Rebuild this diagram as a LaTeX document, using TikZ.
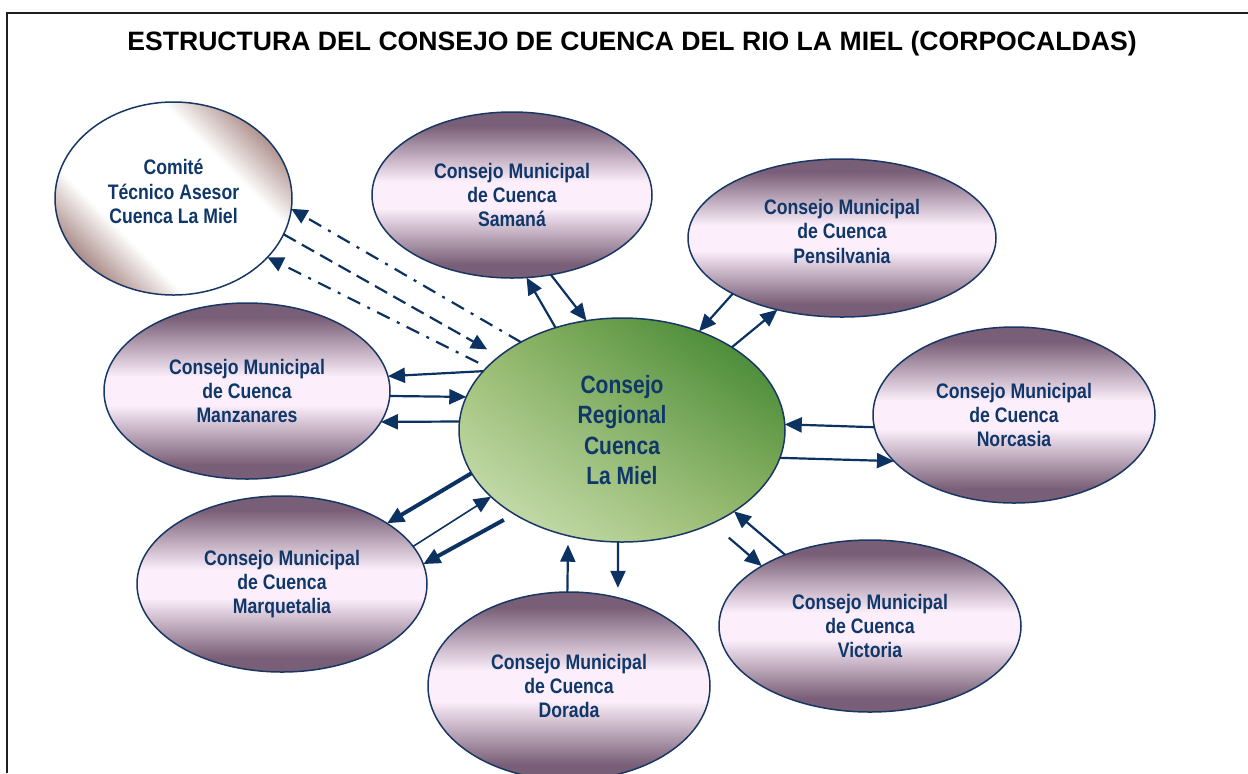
\documentclass[tikz,border=0pt]{standalone}
\usepackage{fontspec}
\setmainfont{Liberation Sans}
\newfontfamily\narrowfont[FakeStretch=0.84]{Liberation Sans}
\usetikzlibrary{shapes.geometric,arrows.meta,shadings}
\definecolor{mauveD}{RGB}{120,94,118}
\definecolor{mauveL}{RGB}{252,238,251}
\definecolor{navytxt}{RGB}{16,55,105}
\definecolor{arrowc}{RGB}{12,50,98}
\definecolor{edgec}{RGB}{25,55,100}
\definecolor{brn}{RGB}{140,100,95}
\definecolor{brnB}{RGB}{150,110,105}
\definecolor{gDark}{RGB}{50,125,40}
\definecolor{gMid}{RGB}{150,185,105}
\definecolor{gLight}{RGB}{212,230,192}
\definecolor{framec}{RGB}{30,30,30}
\pgfdeclareverticalshading{muniShade}{100bp}{color(0bp)=(mauveD); color(29bp)=(mauveD); color(46bp)=(mauveL); color(54bp)=(mauveL); color(71bp)=(mauveD); color(100bp)=(mauveD)}
\pgfdeclarehorizontalshading{comiteShade}{100bp}{color(0bp)=(brn); color(21bp)=(brn); color(36bp)=(white); color(64bp)=(white); color(79bp)=(brnB); color(100bp)=(brnB)}
\tikzset{
  bubble/.style={ellipse, draw=edgec, line width=0.75pt, inner sep=0pt, outer sep=0pt,
    text=navytxt, align=center, font=\narrowfont\bfseries\fontsize{10.5}{12.2}\selectfont},
  muni/.style={bubble, shading=muniShade},
  comitestyle/.style={bubble, shading=comiteShade, shading angle=45},
  centralstyle/.style={bubble, shade, upper right=gDark, lower left=gLight, upper left=gMid, lower right=gMid,
    font=\narrowfont\bfseries\fontsize{12.5}{15.3}\selectfont},
  arr/.style={draw=arrowc, line width=1.1pt, -{Triangle[length=8.5pt,width=7.5pt]}},
  arrthick/.style={arr, line width=2pt},
  arrthin/.style={arr, line width=0.8pt},
  dasharr/.style={draw=arrowc, line width=1.1pt, -{Triangle[length=8pt,width=7.5pt]}},
  dashA/.style={dash pattern=on 7pt off 3.5pt},
  dashdotA/.style={dash pattern=on 7pt off 4pt on 1.5pt off 4pt},
  titlestyle/.style={font=\bfseries\fontsize{13.3}{16}\selectfont, text=black, inner sep=0pt},
  framestyle/.style={draw=framec, line width=1pt}
}
\begin{document}
\begin{tikzpicture}[x=0.5pt,y=-0.5pt]
\path[use as bounding box, clip] (0,0) rectangle (1248,773);
\draw[framestyle] (7,773) -- (7,13) -- (1248,13);
\node[titlestyle, anchor=base] (title) at (632,50) {ESTRUCTURA DEL CONSEJO DE CUENCA DEL RIO LA MIEL (CORPOCALDAS)};

\node[comitestyle, minimum width=118.5pt, minimum height=96.5pt] (comite) at (173.5,198.5) {Comité\\Técnico Asesor\\Cuenca La Miel\rule[-7pt]{0pt}{0pt}};
\node[muni, minimum width=140pt, minimum height=83pt] (samana) at (512,195) {Consejo Municipal\\de Cuenca\\Samaná};
\node[muni, minimum width=154pt, minimum height=79pt] (pens) at (842,238) {Consejo Municipal\\de Cuenca\\Pensilvania\rule[-7pt]{0pt}{0pt}};
\node[muni, minimum width=143pt, minimum height=88pt] (manz) at (247,391) {Consejo Municipal\\de Cuenca\\Manzanares};
\node[centralstyle, minimum width=163pt, minimum height=112pt] (central) at (622,430) {Consejo\\Regional\\Cuenca\\La Miel};
\node[muni, minimum width=141pt, minimum height=88pt] (norc) at (1014,415) {Consejo Municipal\\de Cuenca\\Norcasia};
\node[muni, minimum width=145pt, minimum height=88pt] (marq) at (282,584) {Consejo Municipal\\de Cuenca\\Marquetalia};
\node[muni, minimum width=151pt, minimum height=86pt] (vict) at (870,626) {Consejo Municipal\\de Cuenca\\Victoria};
\node[muni, minimum width=141pt, minimum height=94pt] (dorada) at (569,686) {Consejo Municipal\\de Cuenca\\Dorada};

% Samana
\draw[arr] (central.123.8) -- (samana.-80);
\draw[arr] (samana.-64.3) -- (central.108);
% Pensilvania
\draw[arr] (pens.-153) -- (central.52.6);
\draw[arr] (central.37) -- (pens.-132.7);
% Manzanares
\draw[arr] (central.157) -- (manz.6.3);
\draw[arr] (manz.-2.8) -- (central.168.4);
\draw[arr] (central.177.6) -- (manz.-13.7);
% Norcasia
\draw[arr] (norc.-175.9) -- (central.2.6);
\draw[arr] (central.-10.6) -- (norc.-159.9);
% Marquetalia
\draw[arrthick] (central.-164.6) -- (marq.30.7);
\draw[arrthin] (marq.16.5) -- (central.-153.9);
\draw[arrthick, shorten <=6pt] (central.-142.7) -- (marq.8.7);
% Dorada
\draw[arr, shorten >=4.5pt] (dorada.91) -- (central.-117);
\draw[arr, shorten >=5pt] (central.-92.5) -- (dorada.61.5);
% Victoria
\draw[arr] (vict.140.9) -- (central.-36.8);
\draw[arr, shorten <=11pt] (central.-46.2) -- (vict.151.1);
% Comite
\draw[dasharr, dashdotA] (central.139) -- (comite.-5);
\draw[dasharr, dashA, shorten >=7pt] (comite.-18.3) -- (central.149);
\draw[dasharr, dashdotA, shorten <=5pt] (central.155) -- (comite.-32.7);
\end{tikzpicture}
\end{document}
